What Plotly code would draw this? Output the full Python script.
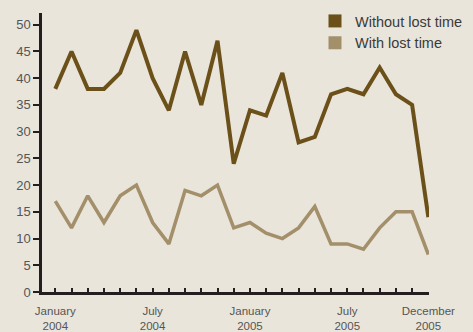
import plotly.graph_objects as go

months = list(range(24))
tick_labels = ["January<br>2004", "", "", "", "", "", "July<br>2004", "", "", "", "", "",
               "January<br>2005", "", "", "", "", "", "July<br>2005", "", "", "", "", "December<br>2005"]
without_lost = [38, 45, 38, 38, 41, 49, 40, 34, 45, 35, 47, 24,
                34, 33, 41, 28, 29, 37, 38, 37, 42, 37, 35, 14]
with_lost = [17, 12, 18, 13, 18, 20, 13, 9, 19, 18, 20, 12,
             13, 11, 10, 12, 16, 9, 9, 8, 12, 15, 15, 7]

dark = "#6B5119"
light = "#A38F69"
bg = "#E9E5DB"
txt = "#555555"
font = "Liberation Sans, Arial, sans-serif"

fig = go.Figure()
fig.add_trace(go.Scatter(x=months, y=without_lost, mode="lines",
                         line=dict(color=dark, width=4), showlegend=False))
fig.add_trace(go.Scatter(x=months, y=with_lost, mode="lines",
                         line=dict(color=light, width=3.5), showlegend=False))
fig.add_trace(go.Scatter(x=[None], y=[None], mode="markers", name="Without lost time",
                         marker=dict(symbol="square", size=13, color=dark)))
fig.add_trace(go.Scatter(x=[None], y=[None], mode="markers", name="With lost time",
                         marker=dict(symbol="square", size=13, color=light)))

fig.update_layout(
    width=473, height=332,
    margin=dict(l=42, r=44, t=13, b=40, autoexpand=False),
    paper_bgcolor=bg, plot_bgcolor=bg,
    font=dict(family=font, color=txt, size=12),
    legend=dict(x=315/473, y=1-5/332, xref="container", yref="container",
                xanchor="left", yanchor="top",
                font=dict(size=14.5, color="#3a3a3a"), bgcolor="rgba(0,0,0,0)",
                tracegroupgap=0, itemsizing="trace"),
    xaxis=dict(range=[-0.82, 23.04], tickvals=months, ticktext=tick_labels,
               ticks="inside", ticklen=4, tickwidth=2, tickcolor="#231F20",
               showline=True, linecolor="#231F20", linewidth=2.5,
               showgrid=False, zeroline=False, tickangle=0, ticklabelstandoff=6,
               tickfont=dict(size=11.5, color=txt)),
    yaxis=dict(range=[0, 52.2], tickvals=list(range(0, 51, 5)),
               ticks="outside", ticklen=6, tickwidth=2, tickcolor="#231F20",
               showline=True, linecolor="#231F20", linewidth=2.5,
               showgrid=False, zeroline=False,
               tickfont=dict(size=13, color=txt)),
)

fig.write_html("out.html")
